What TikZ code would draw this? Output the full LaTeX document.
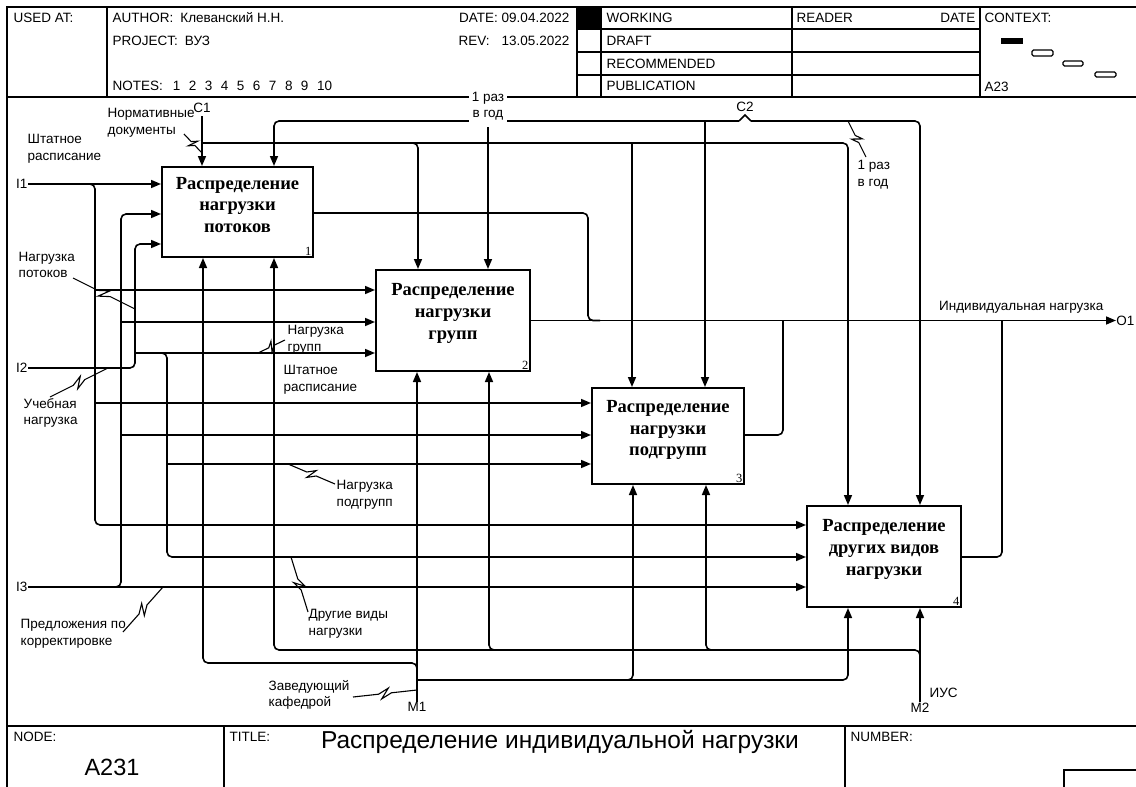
\documentclass[tikz,border=0pt]{standalone}
\usepackage{fontspec}
\setmainfont{Liberation Sans}
\newfontfamily\serifbf{Liberation Serif}
\usetikzlibrary{arrows.meta,calc}

\tikzset{
  wire/.style={line width=1.6pt, rounded corners=5pt},
  frame/.style={line width=1.8pt},
  fnbox/.style={draw, line width=2pt, inner sep=0pt},
  fntext/.style={font=\serifbf\bfseries\fontsize{18.5}{21.7}\selectfont, align=center, inner sep=0pt},
  fnnum/.style={font=\serifbf\fontsize{12.5}{12.5}\selectfont, inner sep=2.5pt},
  lbl/.style={font=\fontsize{13.5}{16.5}\selectfont, align=left, inner sep=0.5pt},
  squig/.style={line width=1.1pt, to path={
    -- ($(\tikztostart)!0.4!(\tikztotarget)$)
    -- ($(\tikztostart)!0.56!(\tikztotarget)!5pt!90:(\tikztotarget)$)
    -- ($(\tikztostart)!0.44!(\tikztotarget)!5pt!-90:(\tikztotarget)$)
    -- ($(\tikztostart)!0.6!(\tikztotarget)$)
    -- (\tikztotarget)}},
}

\begin{document}
\begin{tikzpicture}[x=1pt, y=-1pt, >={Triangle[length=10pt,width=8pt]}]
  \useasboundingbox (0,0) rectangle (1136,787);
  % Form frame
  \draw[frame] (1136,7) -- (7,7) -- (7,787);
  \draw[frame] (7,97) -- (1136,97);
  \draw[frame] (7,726) -- (1136,726);
  \foreach \x in {107,577,601,792,980} \draw[frame] (\x,7) -- (\x,97);
  \foreach \y in {29,52,75} \draw[frame] (577,\y) -- (980,\y);
  \fill (577,7) rectangle (601,29);
  \foreach \x in {224,845} \draw[frame] (\x,726) -- (\x,787);
  \draw[frame] (1064,787) -- (1064,770) -- (1136,770);
  % Header texts
  \node[lbl, anchor=west] (usedat) at (13,18) {USED AT:};
  \node[lbl, anchor=west] (author) at (112,18) {AUTHOR:\hspace{7pt}Клеванский Н.Н.};
  \node[lbl, anchor=west] (project) at (112,41) {PROJECT:\hspace{7pt}ВУЗ};
  \node[lbl, anchor=west] (notes) at (112,86) {NOTES:\hspace{10pt}1\hspace{8.5pt}2\hspace{8.5pt}3\hspace{8.5pt}4\hspace{8.5pt}5\hspace{8.5pt}6\hspace{8.5pt}7\hspace{8.5pt}8\hspace{8.5pt}9\hspace{8.5pt}10};
  \node[lbl, anchor=east] (date) at (570,18) {DATE: 09.04.2022};
  \node[lbl, anchor=east] (rev) at (570,41) {REV:\hspace{12pt}13.05.2022};
  \node[lbl, anchor=west] (working) at (606,18) {WORKING};
  \node[lbl, anchor=west] (draft) at (606,41) {DRAFT};
  \node[lbl, anchor=west] (recom) at (606,64) {RECOMMENDED};
  \node[lbl, anchor=west] (public) at (606,86) {PUBLICATION};
  \node[lbl, anchor=west] (reader) at (796,18) {READER};
  \node[lbl, anchor=east] (rdate) at (976,18) {DATE};
  \node[lbl, anchor=west] (context) at (984,18) {CONTEXT:};
  \node[lbl, anchor=west] (ctxnode) at (984,87) {A23};
  % Context miniature
  \fill (1001,38) rectangle (1023,44);
  \draw[line width=1.2pt, rounded corners=1.5pt] (1032,50) rectangle (1053,56);
  \draw[line width=1.2pt, rounded corners=1.5pt] (1063,61) rectangle (1083,66);
  \draw[line width=1.2pt, rounded corners=1.5pt] (1095,72) rectangle (1116,77);
  % Footer texts
  \node[lbl, anchor=west] (nodelbl) at (13,737) {NODE:};
  \node[font=\fontsize{23.5}{26}\selectfont] (nodeno) at (112,767) {A231};
  \node[lbl, anchor=west] (titlelbl) at (229,737) {TITLE:};
  \node[font=\fontsize{24.5}{28}\selectfont] (title) at (560,742) {Распределение индивидуальной нагрузки};
  \node[lbl, anchor=west] (numberlbl) at (850,737) {NUMBER:};

  % Function boxes
  \node[fnbox, minimum width=151pt, minimum height=90pt] (b1) at (237.5,212) {};
  \node[fnbox, minimum width=154pt, minimum height=101pt] (b2) at (453,320.5) {};
  \node[fnbox, minimum width=152pt, minimum height=96pt] (b3) at (668,436) {};
  \node[fnbox, minimum width=154pt, minimum height=101pt] (b4) at (884,556.5) {};
  \node[fntext] (t1) at ([yshift=7pt]b1.center) {Распределение\\нагрузки\\потоков};
  \node[fntext] (t2) at ([yshift=7pt]b2.center) {Распределение\\нагрузки\\групп};
  \node[fntext] (t3) at ([yshift=6pt]b3.center) {Распределение\\нагрузки\\подгрупп};
  \node[fntext] (t4) at ([yshift=7pt]b4.center) {Распределение\\других видов\\нагрузки};
  \node[fnnum, anchor=south east] (n1) at (b1.south east) {1};
  \node[fnnum, anchor=south east] (n2) at (b2.south east) {2};
  \node[fnnum, anchor=south east] (n3) at (b3.south east) {3};
  \node[fnnum, anchor=south east] (n4) at (b4.south east) {4};

  % Boundary arrow ends
  \coordinate (I1) at (28,184);
  \coordinate (I2) at (28,368);
  \coordinate (I3) at (28,587);
  \coordinate (C1) at (202,116);
  \coordinate (C2) at (745,115);
  \coordinate (M1) at (417,702);
  \coordinate (M2) at (920,702);
  \coordinate (O1) at (1116,320.5);

  % I1: inputs 1 of all boxes
  \draw[wire,->] (I1) -- (I1 -| b1.west);
  \draw[wire,->] (88,184) -- (95,184) -- (95,525) -- (b4.west |- 0,525);
  \draw[wire,->] (95,290) -- (b2.west |- 0,290);
  \draw[wire,->] (95,403) -- (b3.west |- 0,403);
  % I2: loads split over the boxes
  \draw[wire,->] (I2) -- (135,368) -- (135,244) -- (b1.west |- 0,244);
  \draw[wire,->] (135,353) -- (b2.west |- 0,353);
  \draw[wire,->] (158,353) -- (167,353) -- (167,557) -- (b4.west |- 0,557);
  \draw[wire,->] (167,464) -- (b3.west |- 0,464);
  % I3: corrections
  \draw[wire,->] (I3) -- (b4.west |- I3);
  \draw[wire,->] (112,587) -- (121,587) -- (121,214) -- (b1.west |- 0,214);
  \draw[wire,->] (121,322) -- (b2.west |- 0,322);
  \draw[wire,->] (121,435) -- (b3.west |- 0,435);
  % C1: controls 1
  \draw[wire,->] (C1) -- (C1 |- b1.north);
  \draw[wire,->] (202,143) -- (848,143) -- (848,143 |- b4.north);
  \draw[wire,->] (410,143) -- (418,143) -- (418,143 |- b2.north);
  \draw[wire,->] (632,143) -- (632,143 |- b3.north);
  % C2: controls 2
  \draw[wire, sharp corners] (739,121) -- (C2) -- (751,121);
  \draw[wire,->] (739,121) -- (274,121) -- (274,121 |- b1.north);
  \draw[wire,->] (751,121) -- (920,121) -- (920,121 |- b4.north);
  \draw[wire,->] (488,121) -- (488,121 |- b2.north);
  \draw[wire,->] (705,121) -- (705,121 |- b3.north);
  % M1: mechanisms 1
  \draw[wire,->] (M1) -- (M1 |- b2.south);
  \draw[wire,->] (417,676) -- (417,663) -- (203,663) -- (203,663 |- b1.south);
  \draw[wire,->] (417,680) -- (848,680) -- (848,680 |- b4.south);
  \draw[wire,->] (624,680) -- (633,680) -- (633,680 |- b3.south);
  % M2: mechanisms 2
  \draw[wire,->] (M2) -- (M2 |- b4.south);
  \draw[wire,->] (920,662) -- (920,650) -- (274,650) -- (274,650 |- b1.south);
  \draw[wire,->] (498,650) -- (489,650) -- (489,650 |- b2.south);
  \draw[wire,->] (715,650) -- (706,650) -- (706,650 |- b3.south);
  % Outputs joined into O1
  \draw[wire,->] (b2.east) -- (O1);
  \draw[wire] (b1.east |- 0,213) -- (588,213) -- (588,320.5) -- (600,320.5);
  \draw[wire] (b3.east |- 0,435) -- (783,435) -- (783,320.5);
  \draw[wire] (b4.east |- 0,557) -- (1002,557) -- (1002,320.5);

  % Boundary labels
  \node[lbl, left] (lI1) at (I1) {I1};
  \node[lbl, left] (lI2) at (I2) {I2};
  \node[lbl, left] (lI3) at (I3) {I3};
  \node[lbl, above] (lC1) at ([yshift=3pt]C1) {C1};
  \node[lbl, above] (lC2) at ([yshift=3pt]C2) {C2};
  \node[lbl, below] (lM1) at (M1) {M1};
  \node[lbl, below] (lM2) at (M2) {M2};
  \node[lbl, right, inner sep=0.2pt] (lO1) at (O1) {O1};
  % Arrow labels
  \node[lbl, anchor=west] (lstaff) at (27,149) {Штатное\\расписание};
  \node[lbl, anchor=west] (lnorm) at (107,123) {Нормативные\\документы};
  \node[lbl, anchor=west] (lpot) at (18,265) {Нагрузка\\потоков};
  \node[lbl, anchor=west] (luch) at (23,413) {Учебная\\нагрузка};
  \node[lbl, anchor=west] (lgr) at (287,340) {Нагрузка\\групп};
  \node[lbl, anchor=west] (lstaffb) at (283,380) {Штатное\\расписание};
  \node[lbl, anchor=west] (lpodgr) at (336,495) {Нагрузка\\подгрупп};
  \node[lbl, anchor=west] (ldr) at (308,624) {Другие виды\\нагрузки};
  \node[lbl, anchor=west] (lpred) at (20,634) {Предложения по\\корректировке};
  \node[lbl, anchor=west] (lzav) at (268,695) {Заведующий\\кафедрой};
  \node[lbl, anchor=west] (lius) at (929,693) {ИУС};
  \node[lbl, anchor=north west] (lyrb) at (857,160) {1 раз\\в год};
  \node[lbl, anchor=east] (lind) at (1104,307) {Индивидуальная нагрузка};
  \node[lbl, align=center, fill=white, inner xsep=3pt, inner ysep=6pt, anchor=north] (lyra) at (488,86) {1 раз\\в год};
  % Squiggles from labels to arrows
  \draw[squig] (184,134) to (202,153);
  \draw[squig] (73,278) to (135,309);
  \draw[squig] (50,397) to (108,368);
  \draw[squig] (285,340) to (258,353);
  \draw[squig] (288,464) to (335,484);
  \draw[squig] (291,557) to (308,612);
  \draw[squig] (123,632) to (163,587);
  \draw[squig] (353,697) to (417,690);
  \draw[squig] (848,121) to (866,157);
\end{tikzpicture}
\end{document}
